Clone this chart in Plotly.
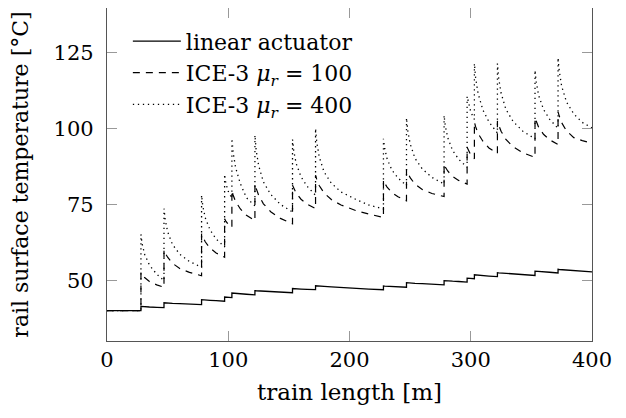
import plotly.graph_objects as go

# shared x positions (train length, m); each segment starts with a vertical jump
x_segments = [
    [0, 28],
    [28, 29, 31, 35, 41, 47],
    [47, 48, 50, 54, 60, 68, 78],
    [78, 79, 81, 85, 90, 97],
    [97, 98, 100, 103],
    [103, 104, 106, 110, 115, 122],
    [122, 123, 125, 129, 135, 143, 153],
    [153, 154, 156, 160, 165, 172],
    [172, 173, 175, 179, 185, 193, 205, 216, 228],
    [228, 229, 231, 235, 240, 247],
    [247, 248, 250, 254, 260, 268, 278],
    [278, 279, 281, 285, 290, 297],
    [297, 298, 300, 303],
    [303, 304, 306, 310, 315, 322],
    [322, 323, 325, 329, 335, 343, 353],
    [353, 354, 356, 360, 365, 372],
    [372, 373, 375, 379, 385, 392, 400],
]

linear_actuator = [
    [40, 40],
    [41.4, 41.35, 41.3, 41.2, 41.1, 41.0],
    [42.6, 42.55, 42.5, 42.4, 42.3, 42.15, 42.0],
    [43.6, 43.55, 43.5, 43.4, 43.3, 43.1],
    [44.5, 44.45, 44.4, 44.3],
    [45.8, 45.75, 45.65, 45.5, 45.4, 45.2],
    [46.6, 46.55, 46.5, 46.4, 46.25, 46.1, 45.9],
    [47.3, 47.25, 47.2, 47.1, 47.0, 46.9],
    [48.2, 48.15, 48.1, 48.0, 47.85, 47.6, 47.35, 47.1, 46.9],
    [48.1, 48.05, 48.0, 47.95, 47.85, 47.7],
    [49.2, 49.15, 49.1, 49.0, 48.9, 48.75, 48.5],
    [49.9, 49.85, 49.8, 49.7, 49.6, 49.4],
    [50.7, 50.65, 50.6, 50.5],
    [51.8, 51.75, 51.65, 51.5, 51.4, 51.2],
    [52.5, 52.45, 52.4, 52.25, 52.1, 51.9, 51.6],
    [53.0, 52.95, 52.9, 52.8, 52.65, 52.4],
    [53.6, 53.55, 53.5, 53.4, 53.25, 53.05, 52.8],
]

ice3_mu100 = [
    [40, 40],
    [52.6, 51.9, 50.9, 49.6, 48.5, 47.7],
    [60.0, 59.0, 57.6, 55.6, 53.9, 52.6, 51.5],
    [65.3, 64.2, 62.7, 60.6, 59.0, 57.6],
    [70.3, 69.5, 68.4, 67.5],
    [79.6, 78.1, 76.0, 73.5, 71.4, 69.7],
    [81.8, 80.3, 78.1, 75.2, 72.6, 70.4, 68.6],
    [81.3, 80.2, 78.7, 76.7, 75.1, 73.6],
    [84.6, 83.2, 81.2, 78.8, 76.6, 74.8, 73.0, 71.8, 70.7],
    [83.0, 82.0, 80.7, 78.9, 77.5, 76.2],
    [86.5, 85.4, 83.8, 81.7, 79.9, 78.6, 77.6],
    [88.3, 87.3, 86.0, 84.2, 82.9, 81.7],
    [93.8, 92.8, 91.3, 90.0],
    [102.1, 100.6, 98.4, 95.8, 93.6, 91.8],
    [102.5, 101.2, 99.1, 96.4, 94.0, 92.0, 90.5],
    [103.5, 102.2, 100.4, 98.1, 96.3, 94.7],
    [105.5, 104.1, 101.9, 99.2, 97.0, 96.0, 95.2],
]

ice3_mu400 = [
    [40, 40],
    [65.1, 62.0, 58.6, 55.0, 52.0, 49.9],
    [73.6, 70.0, 66.0, 61.8, 58.6, 56.2, 54.3],
    [78.0, 74.5, 70.6, 66.6, 63.6, 61.0],
    [84.9, 82.0, 79.3, 77.0],
    [96.7, 92.3, 87.2, 81.8, 77.2, 74.5],
    [97.8, 93.0, 87.9, 82.4, 78.3, 75.0, 72.5],
    [96.4, 92.7, 88.5, 84.1, 81.0, 78.0],
    [100.0, 95.5, 90.7, 85.7, 82.0, 79.1, 76.7, 74.8, 73.5],
    [96.6, 93.5, 90.0, 86.3, 83.7, 81.2],
    [103.5, 99.4, 95.0, 90.2, 86.7, 83.9, 81.7],
    [104.3, 100.9, 97.0, 92.8, 89.9, 87.2],
    [110.6, 108.5, 105.5, 103.0],
    [121.4, 116.8, 111.6, 106.1, 102.2, 98.5],
    [121.4, 116.7, 111.7, 106.3, 102.3, 99.1, 96.6],
    [119.2, 115.4, 110.9, 106.3, 103.1, 100.0],
    [123.3, 118.9, 113.9, 108.7, 104.8, 102.0, 100.2],
]

series_names = [
    "linear actuator",
    "ICE-3 <i>μ</i><sub><i>r</i></sub> = 100",
    "ICE-3 <i>μ</i><sub><i>r</i></sub> = 400",
]
x_ticks = [0, 100, 200, 300, 400]
y_ticks = [50, 75, 100, 125]


def flatten(segs):
    out = []
    for s in segs:
        out.extend(s)
    return out


x_all = flatten(x_segments)
FONT = "DejaVu Serif"

fig = go.Figure()
styles = [("solid", 1.3), ("7px,6px", 1.2), ("1.3px,3.7px", 1.3)]
for name, ys, (dash, w) in zip(series_names, [linear_actuator, ice3_mu100, ice3_mu400], styles):
    fig.add_trace(go.Scatter(
        x=x_all, y=flatten(ys), mode="lines", name=name,
        line=dict(color="black", width=w, dash=dash),
    ))

axis_common = dict(
    showgrid=False, zeroline=False, showline=True, linecolor="#555555", linewidth=1.2,
    mirror="ticks", ticks="inside", ticklen=10, tickcolor="#999999", tickwidth=1,
    tickfont=dict(family=FONT, size=21, color="black"),
    automargin=False,
)

# the page places the figure 8px in from the top-left corner, so margins are offset
fig.update_layout(
    width=626, height=418,
    margin=dict(l=99, r=42, t=0, b=85),
    paper_bgcolor="white", plot_bgcolor="white",
    font=dict(family=FONT, size=21, color="black"),
    showlegend=True,
    legend=dict(
        x=0.043, y=0.963, xanchor="left", yanchor="top",
        bgcolor="rgba(0,0,0,0)", borderwidth=0,
        font=dict(family=FONT, size=22, color="black"),
        tracegroupgap=0, itemwidth=48,
    ),
    xaxis=dict(
        range=[0, 400], tickvals=x_ticks, ticktext=[str(v) for v in x_ticks],
        title=dict(text="train length [m]", font=dict(family=FONT, size=23), standoff=12),
        **axis_common,
    ),
    yaxis=dict(
        range=[30, 139.7], tickvals=y_ticks, ticktext=[str(v) for v in y_ticks],
        ticklabelstandoff=8,
        title=dict(text="rail surface temperature [°C]", font=dict(family=FONT, size=22), standoff=19),
        **axis_common,
    ),
)

fig.write_html("out.html")
